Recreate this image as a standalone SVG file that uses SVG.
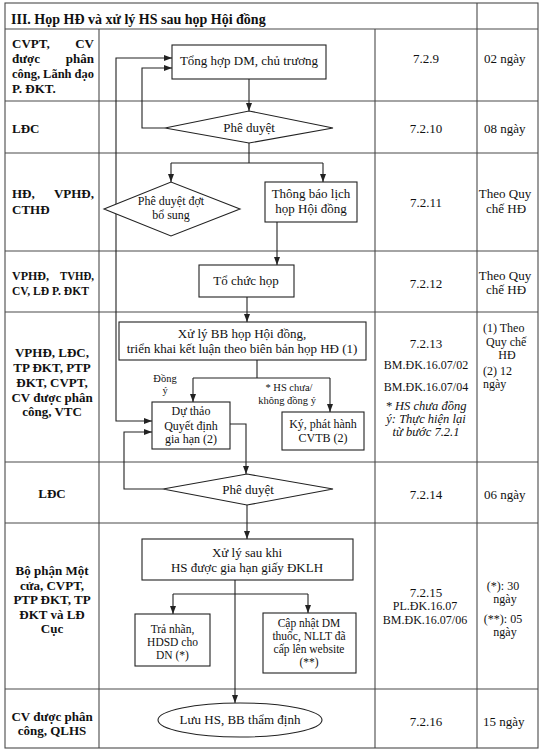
<svg xmlns="http://www.w3.org/2000/svg" width="541" height="752" viewBox="0 0 541 752">
<style>
text{font-family:"Liberation Serif","Times New Roman",serif;fill:#111;}
.t{font-size:13px;}
.s{font-size:12px;}
.ss{font-size:11.5px;}
.xs{font-size:10.5px;}
.b{font-size:13px;font-weight:bold;}
.h{font-size:14px;font-weight:bold;}
.i{font-size:12.5px;font-style:italic;}
.m{text-anchor:middle;}
.e{text-anchor:end;}
.grid line,.grid rect{stroke:#4a4a4a;stroke-width:1.1;fill:none;}
.node rect,.node path,.node ellipse{fill:#fff;stroke:#222;stroke-width:1.1;}
.conn path{fill:none;stroke:#222;stroke-width:1.1;}
</style>
<defs>
<marker id="ah" viewBox="0 0 8 8" refX="8" refY="4" markerWidth="8" markerHeight="8" markerUnits="userSpaceOnUse" orient="auto-start-reverse"><path d="M0,1 L8,4 L0,7 z" fill="#222"/></marker>
</defs>
<rect width="541" height="752" fill="#fff"/>
<g id="table" class="grid">
<rect x="5" y="3" width="533" height="745"/>
<line x1="5" y1="29" x2="538" y2="29"/>
<line x1="5" y1="101" x2="538" y2="101"/>
<line x1="5" y1="153" x2="538" y2="153"/>
<line x1="5" y1="251" x2="538" y2="251"/>
<line x1="5" y1="312" x2="538" y2="312"/>
<line x1="5" y1="462" x2="538" y2="462"/>
<line x1="5" y1="523" x2="538" y2="523"/>
<line x1="5" y1="689" x2="538" y2="689"/>
<line x1="99" y1="29" x2="99" y2="748"/>
<line x1="375" y1="29" x2="375" y2="748"/>
<line x1="477" y1="3" x2="477" y2="748"/>
</g>
<g id="header"><text class="h" x="11" y="24">III. Họp HĐ và xử lý HS sau họp Hội đồng</text></g>
<g id="labels">
<text class="b" x="12" y="48">CVPT,</text><text class="b e" x="94" y="48">CV</text>
<text class="b" x="12" y="63">được</text><text class="b e" x="94" y="63">phân</text>
<text class="b" x="12" y="78" textLength="82" lengthAdjust="spacingAndGlyphs">công, Lãnh đạo</text>
<text class="b" x="12" y="92.5">P. ĐKT.</text>
<text class="b" x="12" y="133">LĐC</text>
<text class="b" x="12" y="198">HĐ,</text><text class="b e" x="94" y="198">VPHĐ,</text>
<text class="b" x="12" y="214">CTHĐ</text>
<text class="b" x="12" y="280" textLength="37" lengthAdjust="spacingAndGlyphs">VPHĐ,</text><text class="b" x="60" y="280" textLength="34" lengthAdjust="spacingAndGlyphs">TVHĐ,</text>
<text class="b" x="12" y="295" textLength="77" lengthAdjust="spacingAndGlyphs">CV, LĐ P. ĐKT</text>
<text class="b m" x="52" y="357">VPHĐ,  LĐC,</text>
<text class="b m" x="52" y="372">TP ĐKT, PTP</text>
<text class="b m" x="52" y="386.5">ĐKT, CVPT,</text>
<text class="b m" x="52" y="401.5">CV được phân</text>
<text class="b m" x="52" y="416">công, VTC</text>
<text class="b m" x="52" y="498">LĐC</text>
<text class="b m" x="52" y="575">Bộ phận Một</text>
<text class="b m" x="52" y="590">cửa, CVPT,</text>
<text class="b m" x="52" y="604">PTP ĐKT, TP</text>
<text class="b m" x="52" y="619">ĐKT và LĐ</text>
<text class="b m" x="52" y="633">Cục</text>
<text class="b m" x="52" y="721">CV được phân</text>
<text class="b m" x="52" y="735">công, QLHS</text>
</g>
<g id="codes">
<text class="t m" x="426" y="63">7.2.9</text>
<text class="t m" x="426" y="133">7.2.10</text>
<text class="t m" x="426" y="207">7.2.11</text>
<text class="t m" x="426" y="288">7.2.12</text>
<text class="t m" x="426" y="348">7.2.13</text>
<text class="s m" x="426" y="369">BM.ĐK.16.07/02</text>
<text class="s m" x="426" y="390.5">BM.ĐK.16.07/04</text>
<text class="i m" x="426" y="410">* HS chưa đồng</text>
<text class="i m" x="426" y="423">ý: Thực hiện lại</text>
<text class="i m" x="426" y="436">từ bước 7.2.1</text>
<text class="t m" x="426" y="499">7.2.14</text>
<text class="t m" x="426" y="597">7.2.15</text>
<text class="s m" x="425" y="610">PL.ĐK.16.07</text>
<text class="s m" x="425" y="624">BM.ĐK.16.07/06</text>
<text class="t m" x="426" y="726">7.2.16</text>
</g>
<g id="times">
<text class="t" x="484" y="63">02 ngày</text>
<text class="t" x="484" y="133">08 ngày</text>
<text class="t m" x="505" y="198">Theo Quy</text>
<text class="t m" x="506" y="213">chế HĐ</text>
<text class="t m" x="505" y="280">Theo Quy</text>
<text class="t m" x="506" y="294">chế HĐ</text>
<text class="s" x="483" y="332">(1) Theo</text>
<text class="s" x="486" y="345.5">Quy chế</text>
<text class="s m" x="507" y="358.5">HĐ</text>
<text class="s" x="483" y="375">(2) 12</text>
<text class="s" x="483" y="388">ngày</text>
<text class="t" x="484" y="499">06 ngày</text>
<text class="s m" x="503" y="590">(*): 30</text>
<text class="s m" x="505" y="603">ngày</text>
<text class="s m" x="503" y="623">(**): 05</text>
<text class="s m" x="505" y="636">ngày</text>
<text class="t" x="483" y="726">15 ngày</text>
</g>
<g id="connectors" class="conn">
<path d="M249,79 V111" marker-end="url(#ah)"/>
<path d="M165,128 H142 V68 H172" marker-end="url(#ah)"/>
<path d="M249,143 V163 M171,163 H323"/>
<path d="M171,163 V182" marker-end="url(#ah)"/>
<path d="M323,163 V182" marker-end="url(#ah)"/>
<path d="M152,421 H116 V58 H172" marker-start="url(#ah)" marker-end="url(#ah)"/>
<path d="M277,222 V265" marker-end="url(#ah)"/>
<path d="M247,297 V322" marker-end="url(#ah)"/>
<path d="M257,360 V378 M193,378 H330"/>
<path d="M193,378 V402" marker-end="url(#ah)"/>
<path d="M330,378 V412" marker-end="url(#ah)"/>
<path d="M163,489 H124 V432 H152" marker-end="url(#ah)"/>
<path d="M230,424 H246 V474" marker-end="url(#ah)"/>
<path d="M247,505 V539" marker-end="url(#ah)"/>
<path d="M235,580 V703" marker-end="url(#ah)"/>
<path d="M173,594 H308"/>
<path d="M173,594 V614" marker-end="url(#ah)"/>
<path d="M308,594 V613" marker-end="url(#ah)"/>
</g>
<g id="n1" class="node"><rect x="172" y="45" width="154" height="34"/><text class="t m" x="249" y="65">Tổng hợp DM, chủ trương</text></g>
<g id="n2" class="node"><path d="M165,128 L249,111 L333,128 L249,143 Z"/><text class="t m" x="249" y="132">Phê duyệt</text></g>
<g id="n3" class="node"><path d="M104,209 L171,182 L240,209 L171,236 Z"/><text class="s m" x="171" y="205">Phê duyệt đợt</text><text class="s m" x="171" y="218.5">bổ sung</text></g>
<g id="n4" class="node"><rect x="265" y="182" width="92" height="40"/><text class="t m" x="311" y="198">Thông báo lịch</text><text class="t m" x="311" y="213">họp Hội đồng</text></g>
<g id="n5" class="node"><rect x="199" y="265" width="95" height="32"/><text class="t m" x="246" y="285">Tổ chức họp</text></g>
<g id="n6" class="node"><rect x="119" y="322" width="247" height="38"/><text class="t m" x="242" y="338">Xử lý BB họp Hội đồng,</text><text class="t m" x="242" y="353">triển khai kết luận theo biên bản họp HĐ (1)</text></g>
<g id="lbl1"><text class="xs m" x="165" y="382">Đồng</text><text class="xs m" x="165" y="394">ý</text></g>
<g id="lbl2"><text class="xs m" x="289" y="391">* HS chưa/</text><text class="xs m" x="287" y="404">không đồng ý</text></g>
<g id="n7" class="node"><rect x="152" y="402" width="78" height="47"/><text class="s m" x="191" y="415">Dự thảo</text><text class="s m" x="191" y="429.5">Quyết định</text><text class="s m" x="191" y="443">gia hạn (2)</text></g>
<g id="n8" class="node"><rect x="282" y="412" width="82" height="38"/><text class="s m" x="323" y="428">Ký, phát hành</text><text class="s m" x="323" y="441.5">CVTB (2)</text></g>
<g id="n9" class="node"><path d="M163,489 L247,474 L333,489 L247,505 Z"/><text class="t m" x="248" y="494">Phê duyệt</text></g>
<g id="n10" class="node"><rect x="142" y="539" width="211" height="41"/><text class="t m" x="247" y="557">Xử lý sau khi</text><text class="t m" x="247" y="572">HS được gia hạn giấy ĐKLH</text></g>
<g id="n11" class="node"><rect x="135" y="614" width="75" height="52"/><text class="ss m" x="172.5" y="633">Trả nhãn,</text><text class="ss m" x="172.5" y="646">HDSD cho</text><text class="ss m" x="172.5" y="659">DN (*)</text></g>
<g id="n12" class="node"><rect x="263" y="613" width="93" height="60"/><text class="ss m" x="309" y="626.5">Cập nhật DM</text><text class="ss m" x="309" y="639.5">thuốc, NLLT đã</text><text class="ss m" x="309" y="652.5">cấp lên website</text><text class="ss m" x="309" y="665.5">(**)</text></g>
<g id="n13" class="node"><ellipse cx="240" cy="720" rx="82" ry="17"/><text class="t m" x="240" y="724">Lưu HS, BB thẩm định</text></g>
</svg>
